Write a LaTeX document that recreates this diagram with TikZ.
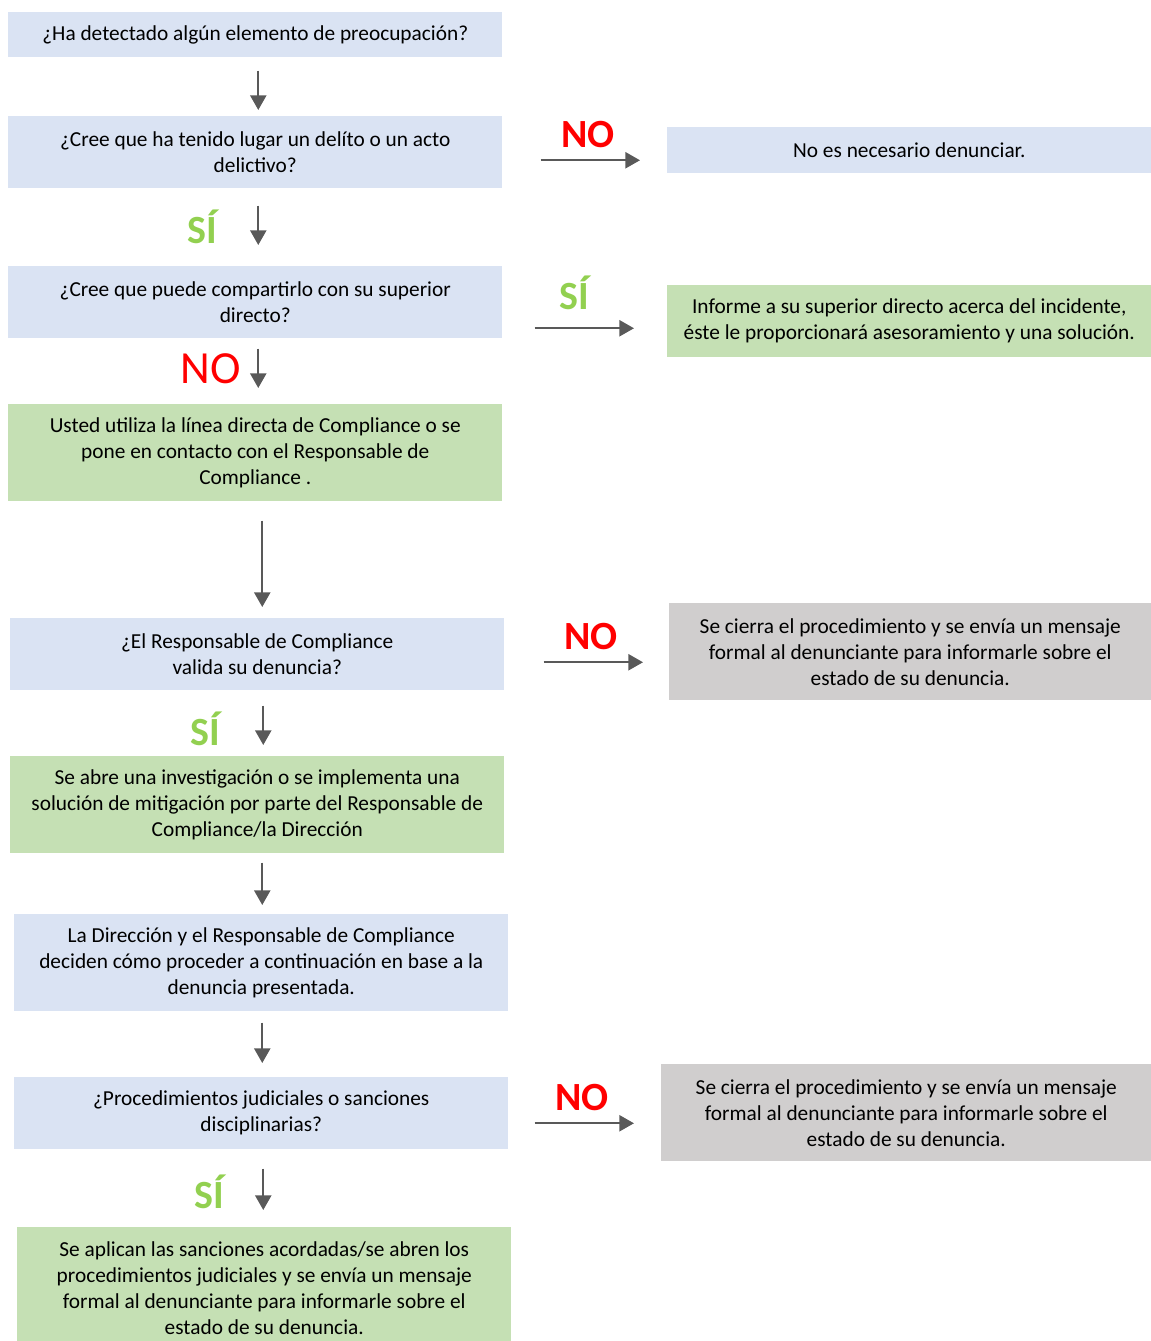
\documentclass[tikz,border=0pt]{standalone}
\usepackage{fontspec}
\setmainfont{Carlito}
\usetikzlibrary{arrows.meta}
\definecolor{bluebox}{HTML}{DAE3F3}
\definecolor{greenbox}{HTML}{C5E0B4}
\definecolor{graybox}{HTML}{D0CECE}
\definecolor{arrgray}{HTML}{595959}
\definecolor{nored}{HTML}{FF0000}
\definecolor{sigreen}{HTML}{92D050}
\tikzset{
  box/.style={anchor=north west, inner sep=0pt, align=center, text=black,
    font=\fontsize{16pt}{19.5pt}\selectfont},
  bbox/.style={box, fill=bluebox},
  gbox/.style={box, fill=greenbox},
  ybox/.style={box, fill=graybox},
  arr/.style={draw=arrgray, line width=1.8pt, -{Triangle[length=11pt,width=12pt,fill=arrgray]}},
  nolab/.style={text=nored, font=\bfseries\fontsize{30pt}{32pt}\selectfont, inner sep=0pt},
  nolabreg/.style={text=nored, font=\fontsize{34.5pt}{36pt}\selectfont, inner sep=0pt},
  silab/.style={text=sigreen, font=\bfseries\fontsize{30pt}{32pt}\selectfont, inner sep=0pt},
}
\begin{document}
\begin{tikzpicture}[x=0.75pt,y=-0.75pt]
\useasboundingbox (0,0) rectangle (1151,1341);
% boxes
\node[bbox, minimum width=494*0.75pt, minimum height=45*0.75pt] (b1) at (8,12) {¿Ha detectado algún elemento de preocupación?};
\node[bbox, minimum width=494*0.75pt, minimum height=72*0.75pt] (b2) at (8,116) {¿Cree que ha tenido lugar un delíto o un acto\\delictivo?};
\node[bbox, minimum width=484*0.75pt, minimum height=46*0.75pt] (r1) at (667,127) {No es necesario denunciar.};
\node[bbox, minimum width=494*0.75pt, minimum height=72*0.75pt] (b3) at (8,266) {¿Cree que puede compartirlo con su superior\\directo?};
\node[gbox, minimum width=484*0.75pt, minimum height=72*0.75pt] (r2) at (667,285) {Informe a su superior directo acerca del incidente,\\éste le proporcionará asesoramiento y una solución.};
\node[gbox, minimum width=494*0.75pt, minimum height=97*0.75pt] (b4) at (8,404) {Usted utiliza la línea directa de Compliance o se\\pone en contacto con el Responsable de\\Compliance .};
\node[bbox, minimum width=494*0.75pt, minimum height=72*0.75pt] (b5) at (10,618) {¿El Responsable de Compliance\\valida su denuncia?};
\node[ybox, minimum width=482*0.75pt, minimum height=97*0.75pt] (r3) at (669,603) {Se cierra el procedimiento y se envía un mensaje\\formal al denunciante para informarle sobre el\\estado de su denuncia.};
\node[gbox, minimum width=494*0.75pt, minimum height=97*0.75pt] (b6) at (10,756) {Se abre una investigación o se implementa una\\solución de mitigación por parte del Responsable de\\Compliance/la Dirección};
\node[bbox, minimum width=494*0.75pt, minimum height=97*0.75pt] (b7) at (14,914) {La Dirección y el Responsable de Compliance\\deciden cómo proceder a continuación en base a la\\denuncia presentada.};
\node[bbox, minimum width=494*0.75pt, minimum height=72*0.75pt] (b8) at (14,1077) {¿Procedimientos judiciales o sanciones\\disciplinarias?};
\node[ybox, minimum width=490*0.75pt, minimum height=97*0.75pt] (r4) at (661,1064) {Se cierra el procedimiento y se envía un mensaje\\formal al denunciante para informarle sobre el\\estado de su denuncia.};
\node[gbox, minimum width=494*0.75pt, minimum height=122*0.75pt] (b9) at (17,1227) {Se aplican las sanciones acordadas/se abren los\\procedimientos judiciales y se envía un mensaje\\formal al denunciante para informarle sobre el\\estado de su denuncia.};
% labels
\node[nolab] (no1) at (588,135) {NO};
\node[silab] (si1) at (202,227) {SÍ};
\node[silab] (si2) at (574,293) {SÍ};
\node[nolabreg] (no2) at (211,369) {NO};
\node[nolab] (no3) at (591,637) {NO};
\node[silab] (si3) at (205,729) {SÍ};
\node[nolab] (no4) at (582,1098) {NO};
\node[silab] (si4) at (209,1192) {SÍ};
% arrows
\draw[arr] ([shift={(3,13)}]b1.south) -- ([shift={(3,-6)}]b2.north);
\draw[arr] ([shift={(38,8)}]b2.east) -- ([shift={(-27,10)}]r1.west);
\draw[arr] ([shift={(3,17)}]b2.south) -- ([shift={(3,-21)}]b3.north);
\draw[arr] ([shift={(32,26)}]b3.east) -- ([shift={(-33,7)}]r2.west);
\draw[arr] ([shift={(3,10)}]b3.south) -- ([shift={(3,-16)}]b4.north);
\draw[arr] ([shift={(7,19)}]b4.south) -- ([shift={(5,-11)}]b5.north);
\draw[arr] ([shift={(39,8)}]b5.east) -- ([shift={(-26,10.5)}]r3.west);
\draw[arr] ([shift={(6,15)}]b5.south) -- ([shift={(6,-11)}]b6.north);
\draw[arr] ([shift={(5,9)}]b6.south) -- ([shift={(1,-9)}]b7.north);
\draw[arr] ([shift={(1,11)}]b7.south) -- ([shift={(1,-14)}]b8.north);
\draw[arr] ([shift={(26,10)}]b8.east) -- ([shift={(-27,10.5)}]r4.west);
\draw[arr] ([shift={(2,19)}]b8.south) -- ([shift={(-1,-17)}]b9.north);
\end{tikzpicture}
\end{document}
